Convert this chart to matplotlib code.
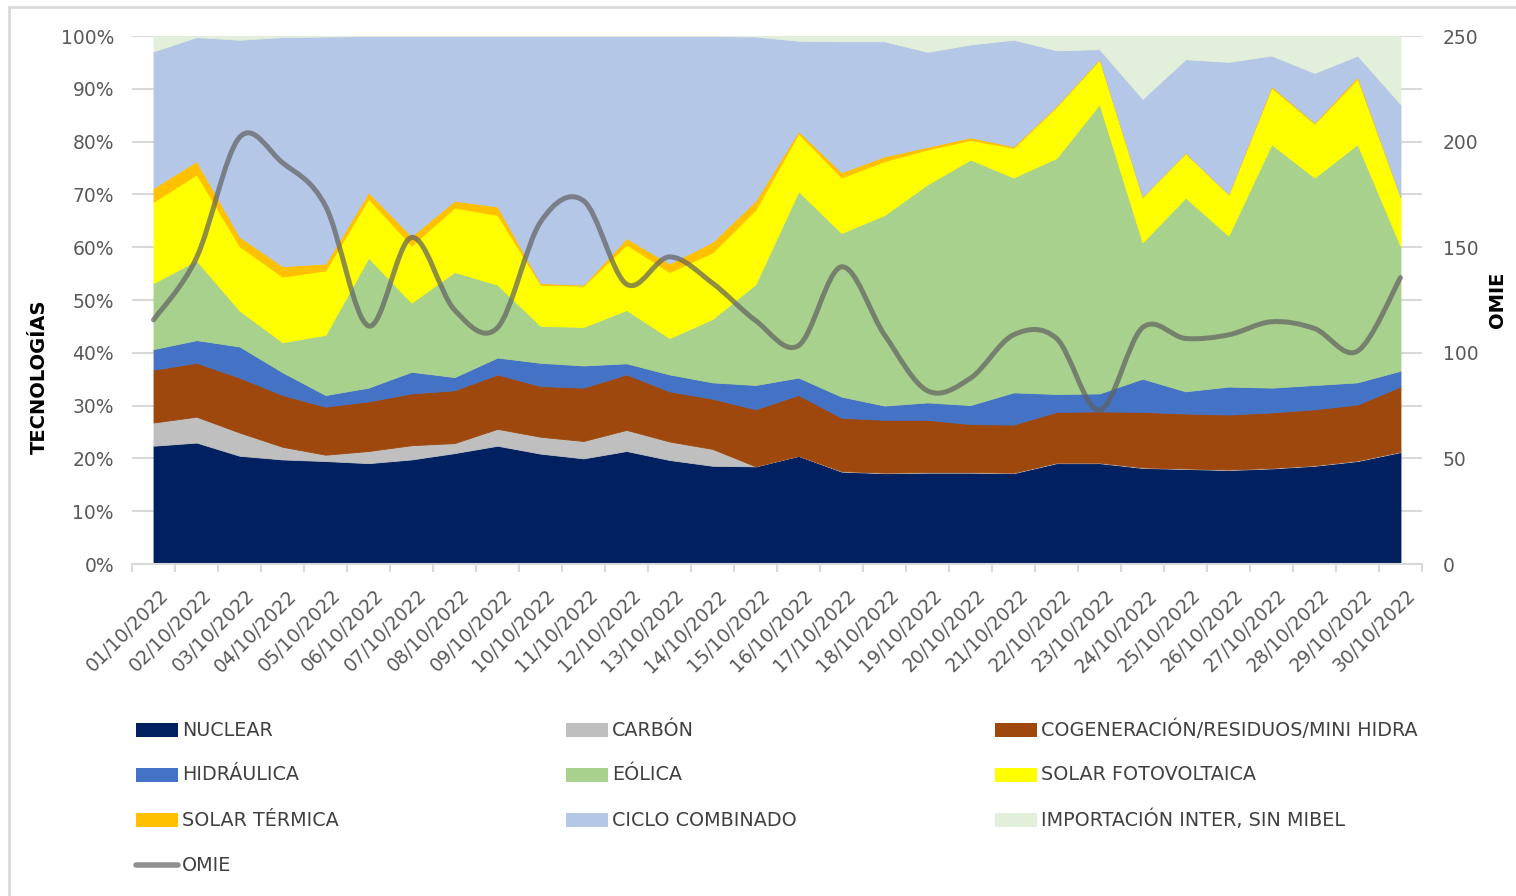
import matplotlib
matplotlib.use("Agg")
import matplotlib.pyplot as plt
from matplotlib.path import Path
from matplotlib.patches import PathPatch, Rectangle
from matplotlib.lines import Line2D
from matplotlib.ticker import FixedLocator, PercentFormatter
from matplotlib.transforms import ScaledTranslation

# --- data (shares in %, OMIE price) ---
dates = [f"{d:02d}/10/2022" for d in range(1, 31)]

nuclear = [22.4, 23.0, 20.5, 19.8, 19.5, 19.1, 19.8, 21.0, 22.4, 20.9, 20.0, 21.4, 19.7, 18.6, 18.5,
           20.5, 17.5, 17.2, 17.3, 17.3, 17.2, 19.1, 19.1, 18.2, 18.0, 17.8, 18.1, 18.6, 19.5, 21.2]
carbon = [4.4, 4.9, 4.4, 2.4, 1.2, 2.3, 2.7, 1.9, 3.2, 3.2, 3.3, 4.0, 3.5, 3.2, 0.0,
          0.0, 0.1, 0.1, 0.1, 0.1, 0.1, 0.1, 0.1, 0.1, 0.1, 0.1, 0.1, 0.1, 0.1, 0.1]
cogen = [10.0, 10.2, 10.4, 9.8, 9.1, 9.4, 9.8, 10.0, 10.3, 9.6, 10.1, 10.5, 9.5, 9.5, 10.8,
         11.5, 10.1, 10.0, 9.9, 9.1, 9.1, 9.6, 9.7, 10.5, 10.4, 10.4, 10.5, 10.6, 10.6, 12.3]
hidraulica = [3.9, 4.3, 5.9, 4.3, 2.2, 2.6, 4.1, 2.5, 3.2, 4.4, 4.2, 2.1, 3.2, 3.1, 4.6,
              3.3, 4.0, 2.7, 3.3, 3.6, 6.1, 3.4, 3.4, 6.3, 4.2, 5.3, 4.7, 4.6, 4.2, 3.0]
eolica = [12.5, 15.1, 6.8, 5.7, 11.4, 24.6, 13.1, 19.9, 13.8, 7.0, 7.3, 10.1, 6.9, 12.0, 19.1,
          35.3, 31.0, 36.1, 41.3, 46.5, 40.7, 44.7, 54.8, 25.8, 36.7, 28.6, 46.1, 39.3, 45.1, 23.6]
solar_fv = [15.4, 16.3, 12.2, 12.4, 12.2, 11.2, 10.8, 12.2, 13.2, 7.8, 7.8, 12.4, 12.5, 12.6, 14.1,
            10.9, 10.5, 10.2, 6.6, 3.7, 5.6, 9.7, 8.4, 8.6, 8.4, 7.8, 10.7, 10.2, 12.4, 9.3]
solar_term = [2.6, 2.5, 1.8, 2.0, 1.3, 1.2, 1.8, 1.3, 1.6, 0.3, 0.2, 1.2, 1.6, 2.0, 1.7,
              0.5, 1.0, 0.9, 0.5, 0.5, 0.3, 0.2, 0.2, 0.1, 0.1, 0.1, 0.3, 0.2, 0.4, 0.1]
ciclo = [25.9, 23.5, 37.3, 43.4, 43.0, 29.6, 37.9, 31.2, 32.3, 46.8, 47.1, 38.3, 43.1, 39.0, 31.1,
         17.1, 24.8, 21.8, 18.0, 17.6, 20.2, 10.5, 1.8, 18.5, 17.7, 25.0, 5.8, 9.4, 4.0, 17.5]
importacion = [2.9, 0.2, 0.7, 0.2, 0.1, 0.0, 0.0, 0.0, 0.0, 0.0, 0.0, 0.0, 0.0, 0.0, 0.1,
               0.9, 1.0, 1.0, 3.0, 1.6, 0.7, 2.7, 2.5, 11.9, 4.4, 4.9, 3.7, 7.0, 3.7, 12.9]
omie = [115.6, 145.0, 202.0, 190.0, 169.5, 112.7, 154.6, 120.3, 111.9, 161.9, 172.0, 132.5, 145.4, 133.0, 115.3,
        103.4, 140.7, 108.5, 82.0, 88.0, 108.5, 106.8, 72.9, 111.9, 106.8, 108.5, 114.7, 111.5, 100.8, 135.6]

labels = ["NUCLEAR", "CARBÓN", "COGENERACIÓN/RESIDUOS/MINI HIDRA", "HIDRÁULICA", "EÓLICA",
          "SOLAR FOTOVOLTAICA", "SOLAR TÉRMICA", "CICLO COMBINADO", "IMPORTACIÓN INTER, SIN MIBEL"]
colors = ["#002060", "#BFBFBF", "#9E480E", "#4472C4", "#A9D18E",
          "#FFFF00", "#FFC000", "#B4C7E7", "#E2EFDA"]
series = [nuclear, carbon, cogen, hidraulica, eolica, solar_fv, solar_term, ciclo, importacion]

W, H = 1516, 896
FONT = "DejaVu Sans"
TXT = "#595959"
GRID = "#D9D9D9"


def fx(px):
    return px / W


def fy(py):
    return 1 - py / H


def smooth_path(x, y):
    # Excel-style smoothed line: cubic Bezier segments through every point
    verts = [(x[0], y[0])]
    codes = [Path.MOVETO]
    n = len(x)
    for i in range(n - 1):
        xp, yp = (x[i - 1], y[i - 1]) if i > 0 else (x[i], y[i])
        xn, yn = (x[i + 2], y[i + 2]) if i + 2 < n else (x[i + 1], y[i + 1])
        c1 = (x[i] + (x[i + 1] - xp) / 6, y[i] + (y[i + 1] - yp) / 6)
        c2 = (x[i + 1] - (xn - x[i]) / 6, y[i + 1] - (yn - y[i]) / 6)
        verts += [c1, c2, (x[i + 1], y[i + 1])]
        codes += [Path.CURVE4] * 3
    return Path(verts, codes)


plt.rcParams["font.family"] = FONT
fig = plt.figure(figsize=(W / 100, H / 100), dpi=100)
fig.patch.set_facecolor("white")

# chart border (only top and left visible in the crop)
fig.add_artist(Rectangle((fx(9), -0.1), 1.2, fy(7) + 0.1, transform=fig.transFigure,
                         fill=False, edgecolor=GRID, linewidth=2))

ax = fig.add_axes([fx(132), fy(564), fx(1422) - fx(132), fy(36) - fy(564)])
x = list(range(len(dates)))

ax.stackplot(x, *series, colors=colors, linewidth=0.6)
for coll, c in zip(ax.collections, colors):
    coll.set_edgecolor(c)

ax.set_xlim(-0.5, len(dates) - 0.5)
ax.set_ylim(0, 100)
ax.set_axisbelow(True)
ax.yaxis.set_major_locator(FixedLocator(range(0, 101, 10)))
ax.yaxis.set_major_formatter(PercentFormatter(decimals=0))
ax.grid(axis="y", color=GRID, linewidth=1.5)
ax.tick_params(axis="y", length=0, pad=13, labelsize=13.5, labelcolor=TXT)
for s in ["top", "right", "left"]:
    ax.spines[s].set_visible(False)
ax.spines["bottom"].set_color(GRID)
ax.spines["bottom"].set_linewidth(1.5)

ax.set_xticks(x)
ax.set_xticklabels(dates, rotation=45, ha="right", va="top", rotation_mode="anchor")
ax.set_xticks([i - 0.5 for i in range(len(dates) + 1)], minor=True)
ax.tick_params(axis="x", which="major", length=0, pad=16, labelsize=13.5, labelcolor=TXT)
ax.tick_params(axis="x", which="minor", length=6, width=1.5, color=GRID)
for lab in ax.get_xticklabels():
    lab.set_transform(lab.get_transform() + ScaledTranslation(0.05, 0, fig.dpi_scale_trans))

# secondary axis for OMIE price
ax2 = ax.twinx()
ax2.set_ylim(0, 250)
ax2.yaxis.set_major_locator(FixedLocator(range(0, 251, 50)))
ax2.tick_params(axis="y", length=0, pad=15, labelsize=13.5, labelcolor=TXT)
for s in ax2.spines.values():
    s.set_visible(False)
ax2.add_patch(PathPatch(smooth_path(x, omie), fill=False, edgecolor="#606060",
                        linewidth=3.6, alpha=0.7, capstyle="round", joinstyle="round"))

fig.text(fx(39), fy(377), "TECNOLOGÍAS", rotation=90, ha="center", va="center",
         fontsize=14, fontweight="bold", color="black")
fig.text(fx(1497), fy(300), "OMIE", rotation=90, ha="center", va="center",
         fontsize=14, fontweight="bold", color="black")

# legend, laid out row by row like the original
col_x = [136, 566, 995]
row_y = [730, 775, 820, 865]
for k, (lab, c) in enumerate(zip(labels, colors)):
    r, cidx = divmod(k, 3)
    x0, y0 = col_x[cidx], row_y[r]
    fig.add_artist(Rectangle((fx(x0), fy(y0 + 7)), fx(42), 14 / H, transform=fig.transFigure,
                             facecolor=c, edgecolor="none"))
    fig.text(fx(x0 + 46), fy(y0), lab, ha="left", va="center", fontsize=13.8,
             color="#404040")
fig.add_artist(Line2D([fx(136), fx(178)], [fy(865), fy(865)], transform=fig.transFigure,
                      color="#909090", linewidth=4, solid_capstyle="round"))
fig.text(fx(182), fy(865), "OMIE", ha="left", va="center", fontsize=13.8,
         color="#404040")

fig.savefig("out.png", dpi=100)
